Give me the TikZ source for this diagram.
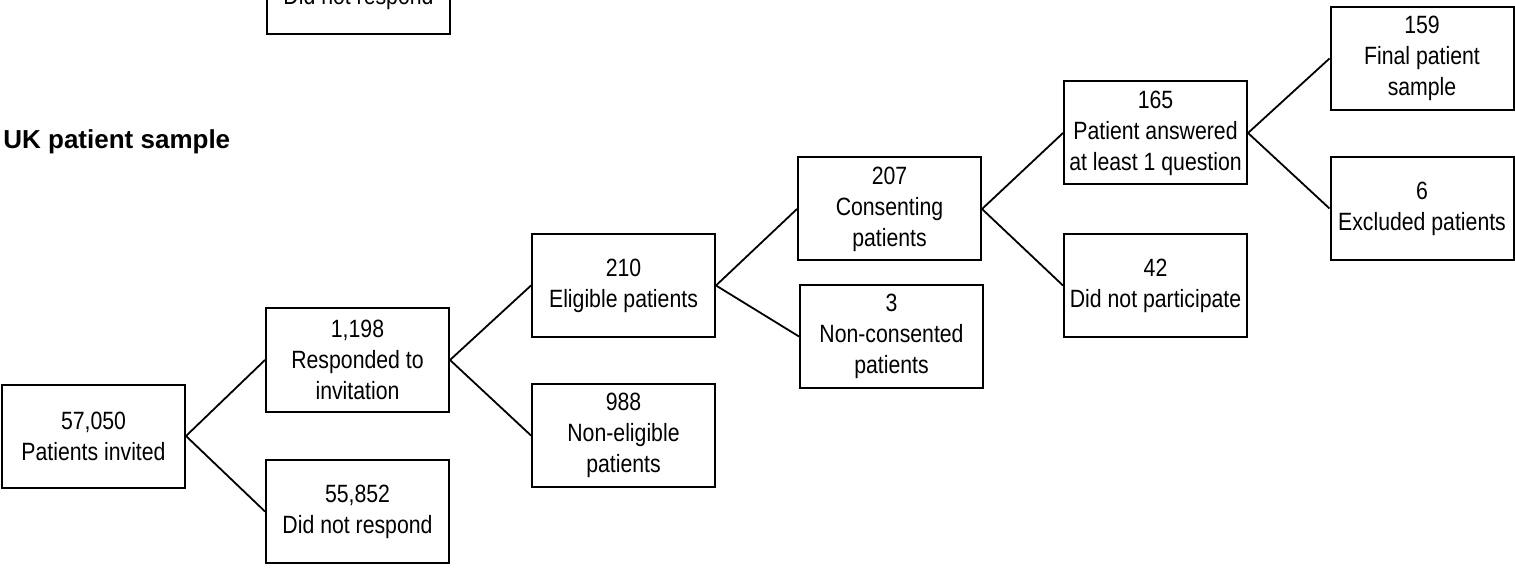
\documentclass[tikz,border=0pt]{standalone}
\usepackage{fontspec}
\setmainfont{Liberation Sans}
\newfontfamily\boxfont{Liberation Sans}[FakeStretch=0.85]
\begin{document}
\begin{tikzpicture}[x=0.5pt,y=-0.5pt,
        box/.style={draw,line width=1pt,minimum width=91.5pt,minimum height=51.5pt,inner sep=2pt,align=center,font=\boxfont\fontsize{12.5}{15.5}\selectfont},
        link/.style={line width=0.9pt}]
        \clip (0,0) rectangle (1515,577);
        \node[anchor=base west,inner sep=0pt,font=\bfseries\fontsize{13}{15}\selectfont] (title) at (3,149) {UK patient sample};
        \node[box] (p) at (358.5,-17) {\vphantom{0}\\Did not respond};
        \node[box] (a) at (93.5,436) {57,050\\Patients invited};
        \node[box] (b) at (357.5,360) {1,198\\Responded to\\invitation};
        \node[box] (c) at (357.5,511.5) {55,852\\Did not respond};
        \node[box] (d) at (623.5,285.5) {210\\Eligible patients};
        \node[box] (e) at (623.5,435.5) {988\\Non-eligible\\patients};
        \node[box] (f) at (889.5,209) {207\\Consenting\\patients};
        \node[box] (g) at (891.5,336.5) {3\\Non-consented\\patients};
        \node[box] (h) at (1155.5,133) {165\\Patient answered\\at least 1 question};
        \node[box] (i) at (1155.5,285.5) {42\\Did not participate};
        \node[box] (j) at (1422,58.5) {159\\Final patient\\sample};
        \node[box] (k) at (1422,208.5) {6\\Excluded patients};
        \draw[link] (a.east) to (b.west);
        \draw[link] (a.east) to (c.west);
        \draw[link] (b.east) to (d.west);
        \draw[link] (b.east) to (e.west);
        \draw[link] (d.east) to (f.west);
        \draw[link] (d.east) to (g.west);
        \draw[link] (f.east) to (h.west);
        \draw[link] (f.east) to (i.west);
        \draw[link] (h.east) to (j.west);
        \draw[link] (h.east) to (k.west);
    \end{tikzpicture}
\end{document}
